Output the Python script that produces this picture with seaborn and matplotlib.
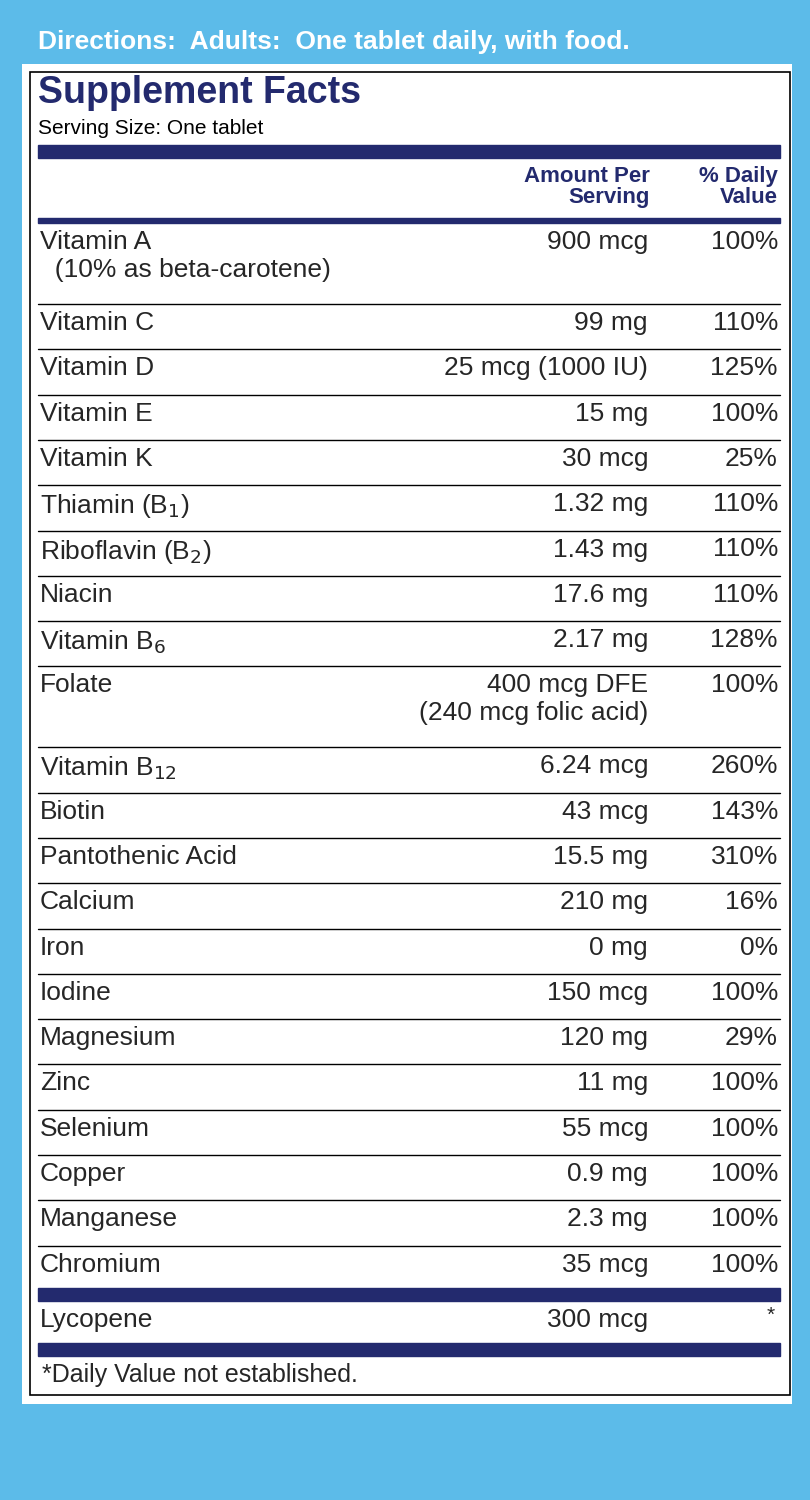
import matplotlib
matplotlib.use("Agg")
import matplotlib.pyplot as plt
import seaborn as sns
from matplotlib.patches import Rectangle

sns.set_style("white")
plt.rcParams['font.family'] = ['Liberation Sans', 'DejaVu Sans']

nutrients = ["Vitamin A\n  (10% as beta-carotene)", "Vitamin C", "Vitamin D", "Vitamin E", "Vitamin K",
             "Thiamin (B$_1$)", "Riboflavin (B$_2$)", "Niacin", "Vitamin B$_6$",
             "Folate", "Vitamin B$_{12}$", "Biotin", "Pantothenic Acid", "Calcium", "Iron",
             "Iodine", "Magnesium", "Zinc", "Selenium", "Copper", "Manganese", "Chromium"]
amounts = ["900 mcg", "99 mg", "25 mcg (1000 IU)", "15 mg", "30 mcg", "1.32 mg", "1.43 mg",
           "17.6 mg", "2.17 mg", "400 mcg DFE\n(240 mcg folic acid)", "6.24 mcg", "43 mcg",
           "15.5 mg", "210 mg", "0 mg", "150 mcg", "120 mg", "11 mg", "55 mcg", "0.9 mg",
           "2.3 mg", "35 mcg"]
daily_values = ["100%", "110%", "125%", "100%", "25%", "110%", "110%", "110%", "128%", "100%",
                "260%", "143%", "310%", "16%", "0%", "100%", "29%", "100%", "100%", "100%",
                "100%", "100%"]

NAVY = "#232a6e"
BLUE = "#5cbbe9"

fig = plt.figure(figsize=(8.1, 15), dpi=100)
fig.patch.set_facecolor(BLUE)
ax = fig.add_axes([0, 0, 1, 1])
ax.set_xlim(0, 810); ax.set_ylim(1500, 0); ax.axis("off")

ax.text(38, 42, "Directions:  Adults:  One tablet daily, with food.", color="white",
        fontsize=19, fontweight="bold", va="center")
ax.add_patch(Rectangle((22, 64), 770, 1340, facecolor="white", edgecolor="none"))
ax.add_patch(Rectangle((30, 72), 760, 1323, facecolor="none", edgecolor="black", lw=1.2))

ax.text(38, 93, "Supplement Facts", color=NAVY, fontsize=27, fontweight="heavy", va="center")
ax.text(38, 128, "Serving Size: One tablet", color="black", fontsize=15, va="center")
ax.add_patch(Rectangle((38, 145), 742, 13, color=NAVY))
ax.text(650, 187, "Amount Per\nServing", color=NAVY, fontsize=16, fontweight="bold",
        ha="right", va="center", linespacing=1.0)
ax.text(778, 187, "% Daily\nValue", color=NAVY, fontsize=16, fontweight="bold",
        ha="right", va="center", linespacing=1.0)
ax.add_patch(Rectangle((38, 218), 742, 5, color=NAVY))

unit = 45.3
y = 223
fs = 19
for name, amt, dv in zip(nutrients, amounts, daily_values):
    double = "\n" in name or "\n" in amt
    top = y + 20
    for x, s, ha in [(40, name, "left"), (648, amt, "right"), (778, dv, "right")]:
        ax.text(x, top - 13, s, fontsize=fs, va="top", ha=ha, linespacing=1.2)
    y += 81 if double else unit
    if y < 1280:
        ax.plot([38, 780], [y, y], color="black", lw=1)

ax.add_patch(Rectangle((38, 1288), 742, 13, color=NAVY))
ax.text(40, 1320, "Lycopene", fontsize=fs, va="center")
ax.text(648, 1320, "300 mcg", fontsize=fs, va="center", ha="right")
ax.text(775, 1315, "*", fontsize=15, va="center", ha="right")
ax.add_patch(Rectangle((38, 1343), 742, 13, color=NAVY))
ax.text(42, 1375, "*Daily Value not established.", fontsize=18, va="center")

fig.savefig("out.png", dpi=100, facecolor=fig.get_facecolor())
